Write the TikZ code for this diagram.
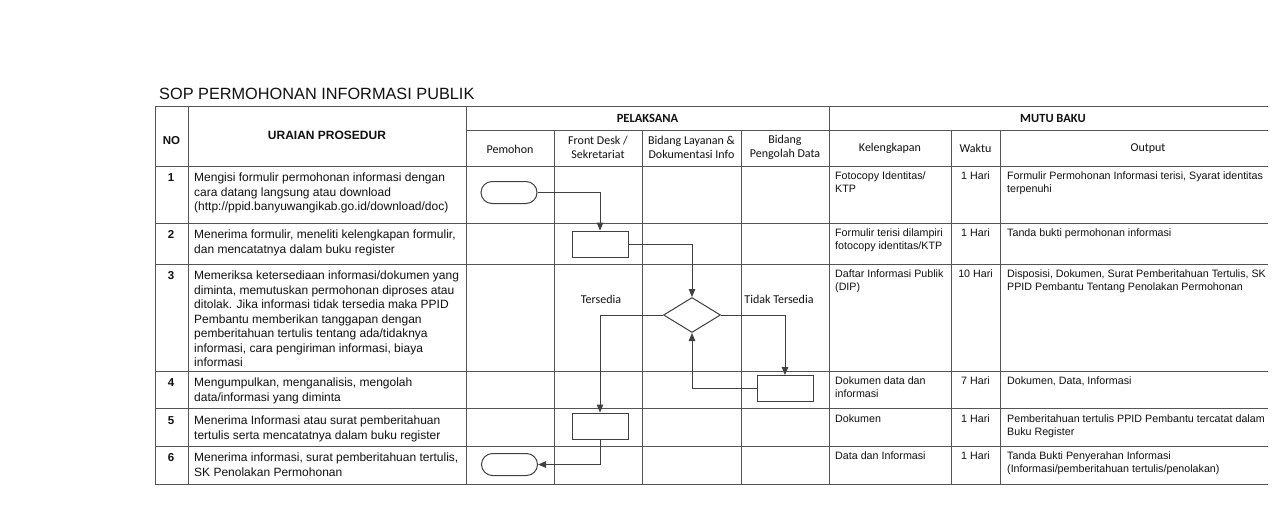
\documentclass[tikz,border=0pt]{standalone}
\usepackage{fontspec}
\setmainfont{Liberation Sans}
\newfontfamily\calib{Carlito}
\usetikzlibrary{arrows.meta,shapes.geometric}
\definecolor{gridc}{HTML}{555555}
\definecolor{flowc}{HTML}{404040}
\definecolor{ink}{HTML}{111111}
\begin{document}
\begin{tikzpicture}[x=1pt,y=-1pt,
  gridline/.style={draw=gridc,line width=0.9pt},
  flowline/.style={draw=flowc,line width=1pt},
  arr/.style={flowline,-{Triangle[length=8pt,width=6.5pt]}},
  term/.style={draw=flowc,line width=1pt,rectangle,rounded corners=11pt,minimum width=56pt,minimum height=22pt,inner sep=0},
  procbox/.style={draw=flowc,line width=1pt,rectangle,minimum width=56pt,minimum height=26pt,inner sep=0},
  decis/.style={draw=flowc,line width=1pt,diamond,minimum width=57pt,minimum height=35pt,inner sep=0},
  body/.style={anchor=base west,inner sep=0,text=ink,font=\fontsize{12}{14.5}\selectfont},
  rbody/.style={anchor=base west,inner sep=0,text=ink,font=\fontsize{10.7}{13}\selectfont},
  num/.style={anchor=base,inner sep=0,text=ink,font=\bfseries\fontsize{11.5}{14}\selectfont},
  wkt/.style={anchor=base,inner sep=0,text=ink,font=\fontsize{10.7}{13}\selectfont},
  hdr/.style={align=center,inner sep=0,text=ink,font=\calib\fontsize{12}{14.5}\selectfont},
  hdrb/.style={align=center,inner sep=0,text=ink,font=\calib\bfseries\fontsize{12.5}{14.5}\selectfont},
  lbl/.style={inner sep=0,text=ink,font=\calib\fontsize{12}{14.5}\selectfont},
]
\useasboundingbox (0,0) rectangle (1280,528);
\fill[white] (0,0) rectangle (1280,528);

% title
\node[anchor=base west,inner sep=0,text=ink,font=\fontsize{16.3}{18}\selectfont] (title) at (159,99) {SOP PERMOHONAN INFORMASI PUBLIK};

% table grid
\draw[gridline] (155,106) -- (1268,106);
\draw[gridline] (466,130) -- (1268,130);
\foreach \y in {166,223,264,371,408,446,484} \draw[gridline] (155,\y) -- (1268,\y);
\foreach \x in {155,188,466,829} \draw[gridline] (\x,106) -- (\x,484);
\foreach \x in {554,642,741,951,1000} \draw[gridline] (\x,130) -- (\x,484);

% headers
\node[anchor=base,inner sep=0,text=ink,font=\bfseries\fontsize{11.5}{14}\selectfont] (hno) at (171.5,144) {NO};
\node[anchor=base,inner sep=0,text=ink,font=\bfseries\fontsize{12}{14}\selectfont] (hur) at (327,139.5) {URAIAN PROSEDUR};
\node[hdrb] (hpel) at (647.5,118) {PELAKSANA};
\node[hdrb] (hmutu) at (1053,118) {MUTU BAKU};
\node[hdr] (hpem) at (510,149) {Pemohon};
\node[hdr] (hfd) at (598,147.5) {Front Desk /\\Sekretariat};
\node[hdr] (hbl) at (691.5,147.5) {Bidang Layanan \&\\Dokumentasi Info};
\node[hdr] (hbp) at (785,147.5) {Bidang\\Pengolah Data};
\node[hdr] (hkel) at (890,148.5) {Kelengkapan};
\node[hdr] (hwkt) at (975.5,148.5) {Waktu};
\node[hdr] (hout) at (1148,148.5) {Output};

% numbers
\node[num] (n1) at (171,181.5) {1};
\node[num] (n2) at (171,238.5) {2};
\node[num] (n3) at (171,279.5) {3};
\node[num] (n4) at (171,386.5) {4};
\node[num] (n5) at (171,424.5) {5};
\node[num] (n6) at (171,461.5) {6};

% uraian prosedur
\node[body] (u1a) at (194,181.5) {Mengisi formulir permohonan informasi dengan};
\node[body] (u1b) at (194,196) {cara datang langsung atau download};
\node[body] (u1c) at (194,210.5) {(http://ppid.banyuwangikab.go.id/download/doc)};
\node[body] (u2a) at (194,238.5) {Menerima formulir, meneliti kelengkapan formulir,};
\node[body] (u2b) at (194,253) {dan mencatatnya dalam buku register};
\node[body] (u3a) at (194,279.5) {Memeriksa ketersediaan informasi/dokumen yang};
\node[body] (u3b) at (194,294) {diminta, memutuskan permohonan diproses atau};
\node[body] (u3c) at (194,308.5) {ditolak. Jika informasi tidak tersedia maka PPID};
\node[body] (u3d) at (194,323) {Pembantu memberikan tanggapan dengan};
\node[body] (u3e) at (194,337.5) {pemberitahuan tertulis tentang ada/tidaknya};
\node[body] (u3f) at (194,352) {informasi, cara pengiriman informasi, biaya};
\node[body] (u3g) at (194,366.5) {informasi};
\node[body] (u4a) at (194,386.5) {Mengumpulkan, menganalisis, mengolah};
\node[body] (u4b) at (194,401) {data/informasi yang diminta};
\node[body] (u5a) at (194,424.5) {Menerima Informasi atau surat pemberitahuan};
\node[body] (u5b) at (194,439) {tertulis serta mencatatnya dalam buku register};
\node[body] (u6a) at (194,461.5) {Menerima informasi, surat pemberitahuan tertulis,};
\node[body] (u6b) at (194,476) {SK Penolakan Permohonan};

% kelengkapan
\node[rbody] (k1a) at (835,179.5) {Fotocopy Identitas/};
\node[rbody] (k1b) at (835,192.5) {KTP};
\node[rbody] (k2a) at (835,236.5) {Formulir terisi dilampiri};
\node[rbody] (k2b) at (835,249.5) {fotocopy identitas/KTP};
\node[rbody] (k3a) at (835,277.5) {Daftar Informasi Publik};
\node[rbody] (k3b) at (835,290.5) {(DIP)};
\node[rbody] (k4a) at (835,384.5) {Dokumen data dan};
\node[rbody] (k4b) at (835,397.5) {informasi};
\node[rbody] (k5a) at (835,422.5) {Dokumen};
\node[rbody] (k6a) at (835,459.5) {Data dan Informasi};

% waktu
\node[wkt] (w1) at (975.5,179.5) {1 Hari};
\node[wkt] (w2) at (975.5,236.5) {1 Hari};
\node[wkt] (w3) at (975.5,277.5) {10 Hari};
\node[wkt] (w4) at (975.5,384.5) {7 Hari};
\node[wkt] (w5) at (975.5,422.5) {1 Hari};
\node[wkt] (w6) at (975.5,459.5) {1 Hari};

% output
\node[rbody] (o1a) at (1007,179.5) {Formulir Permohonan Informasi terisi, Syarat identitas};
\node[rbody] (o1b) at (1007,192.5) {terpenuhi};
\node[rbody] (o2a) at (1007,236.5) {Tanda bukti permohonan informasi};
\node[rbody] (o3a) at (1007,277.5) {Disposisi, Dokumen, Surat Pemberitahuan Tertulis, SK};
\node[rbody] (o3b) at (1007,290.5) {PPID Pembantu Tentang Penolakan Permohonan};
\node[rbody] (o4a) at (1007,384.5) {Dokumen, Data, Informasi};
\node[rbody] (o5a) at (1007,422.5) {Pemberitahuan tertulis PPID Pembantu tercatat dalam};
\node[rbody] (o5b) at (1007,435.5) {Buku Register};
\node[rbody] (o6a) at (1007,459.5) {Tanda Bukti Penyerahan Informasi};
\node[rbody] (o6b) at (1007,472.5) {(Informasi/pemberitahuan tertulis/penolakan)};

% flowchart
\node[term] (t1) at (509,192.5) {};
\node[procbox] (b2) at (600,244) {};
\node[decis] (d3) at (692,315) {};
\node[procbox] (b4) at (785,388.5) {};
\node[procbox] (b5) at (600,426) {};
\node[term] (t6) at (509.5,464.5) {};

\node[lbl] (lt) at (601,299) {Tersedia};
\node[lbl] (ltt) at (779,299) {Tidak Tersedia};

\draw[arr] (t1.east) -| (b2.north);
\draw[arr] (b2.east) -| (d3.north);
\draw[arr] (d3.west) -| (b5.north);
\draw[arr] (d3.east) -| (b4.north);
\draw[arr] (b4.west) -| (d3.south);
\draw[arr] (b5.south) |- (t6.east);
\end{tikzpicture}
\end{document}
